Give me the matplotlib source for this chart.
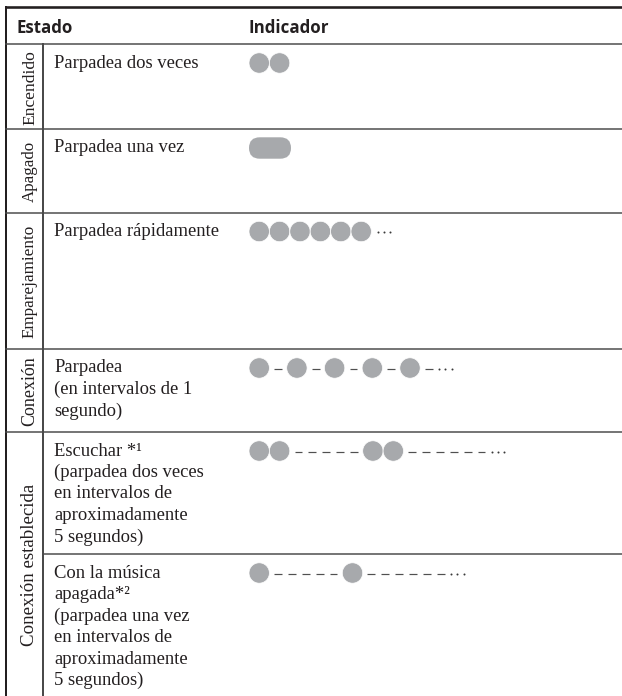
import matplotlib
matplotlib.use("Agg")
import matplotlib.pyplot as plt
from matplotlib.patches import Circle, FancyBboxPatch

# ---------------- data ----------------
headers = ["Estado", "Indicador"]
groups = ["Encendido", "Apagado", "Emparejamiento", "Conexión", "Conexión establecida"]
row_group = [0, 1, 2, 3, 4, 4]
descriptions = [
    ["Parpadea dos veces"],
    ["Parpadea una vez"],
    ["Parpadea rápidamente"],
    ["Parpadea", "(en intervalos de 1", "segundo)"],
    ["Escuchar *¹", "(parpadea dos veces", "en intervalos de", "aproximadamente", "5 segundos)"],
    ["Con la música", "apagada*²", "(parpadea una vez", "en intervalos de",
     "aproximadamente", "5 segundos)"],
]
# o = short flash (dot), = = long flash, - = pause, . = continues
indicators = ["oo", "=", "oooooo.", "o-o-o-o-o-.", "oo-----oo------.", "o-----o------."]

# ---------------- layout ----------------
W, H = 622, 696
row_edges = [44, 129, 212.5, 349, 432, 554, 696]
label_sizes = [12.6, 12.2, 12.3, 13.0, 13.6]
LEFT, DIV, RIGHT, TOP = 6, 43, 622, 6.5
TEXT_X, IND_X = 54, 249
R, GAP, DASH, DASH_GAP, PILL_W = 10.2, 4.8, 7.7, 6.2, 42

TXT = "#231f20"
LINE = "#4a4a4a"
GRAY = "#a7a9ac"
px = 0.72  # points per pixel at dpi 100

serif = ["Liberation Serif", "DejaVu Serif"]
sans = ["Open Sans", "DejaVu Sans"]

fig = plt.figure(figsize=(W / 100, H / 100), dpi=100)
ax = fig.add_axes([0, 0, 1, 1])
ax.set_xlim(0, W)
ax.set_ylim(H, 0)
ax.axis("off")

# ---------------- grid lines ----------------
ax.plot([LEFT - 1, RIGHT], [TOP, TOP], color="#231f20", lw=2.6 * px, solid_capstyle="butt")
ax.plot([LEFT, LEFT], [TOP, H], color="#231f20", lw=2.0 * px)
ax.plot([DIV, DIV], [row_edges[0], H], color=LINE, lw=2.0 * px)
for i, y in enumerate(row_edges[:-1]):
    if i == 0:
        x0 = LEFT
    else:
        x0 = LEFT if row_group[i] != row_group[i - 1] else DIV
    ax.plot([x0, RIGHT], [y, y], color=LINE, lw=1.5 * px)

# ---------------- header ----------------
ax.text(17, 33, headers[0], family=sans, weight="bold", fontsize=12.2, color=TXT,
        ha="left", va="baseline")
ax.text(IND_X, 33, headers[1], family=sans, weight="bold", fontsize=12.2, color=TXT,
        ha="left", va="baseline")

# ---------------- group labels ----------------
for g, name in enumerate(groups):
    rows = [i for i, rg in enumerate(row_group) if rg == g]
    y0, y1 = row_edges[rows[0]], row_edges[rows[-1] + 1]
    ax.text(34, (y0 + y1) / 2 + 1, name, family=serif, fontsize=label_sizes[g], color=TXT,
            rotation=90, rotation_mode="anchor", ha="center", va="baseline")

# ---------------- descriptions ----------------
for i, lines in enumerate(descriptions):
    top = row_edges[i]
    for k, line in enumerate(lines):
        ax.text(TEXT_X, top + 23.5 + 21.5 * k, line, family=serif, fontsize=13.4,
                color=TXT, ha="left", va="baseline")


# ---------------- indicators ----------------
def draw_indicator(pattern, x0, yc):
    x = x0
    prev = None
    for ch in pattern:
        if ch == "o":
            if prev not in (None, "o"):
                x += GAP
            ax.add_patch(Circle((x + R, yc), R, facecolor=GRAY, edgecolor="white",
                                lw=0.5, zorder=3))
            x += 2 * R
        elif ch == "=":
            if prev is not None:
                x += GAP
            ax.add_patch(FancyBboxPatch((x, yc - R - 0.5), PILL_W, 2 * R + 1,
                                        boxstyle=f"round,pad=0,rounding_size={R + 0.5}",
                                        facecolor=GRAY, edgecolor="none", zorder=3))
            x += PILL_W
        elif ch == "-":
            if prev == "-":
                x += DASH_GAP
            elif prev is not None:
                x += GAP
            ax.plot([x, x + DASH], [yc + 1, yc + 1], color="#505050", lw=1.2 * px,
                    solid_capstyle="butt", zorder=3)
            x += DASH
        elif ch == ".":
            x += GAP + 0.5
            ax.plot([x + 1.2, x + 7.4, x + 13.6], [yc + 0.5] * 3, linestyle="none",
                    marker="o", markersize=1.45, markeredgewidth=0, color="#3a3a3a",
                    zorder=3)
            x += 15
        prev = ch


for i, pat in enumerate(indicators):
    draw_indicator(pat, IND_X, row_edges[i] + 19)

fig.savefig("out.png", dpi=100, facecolor="white")
